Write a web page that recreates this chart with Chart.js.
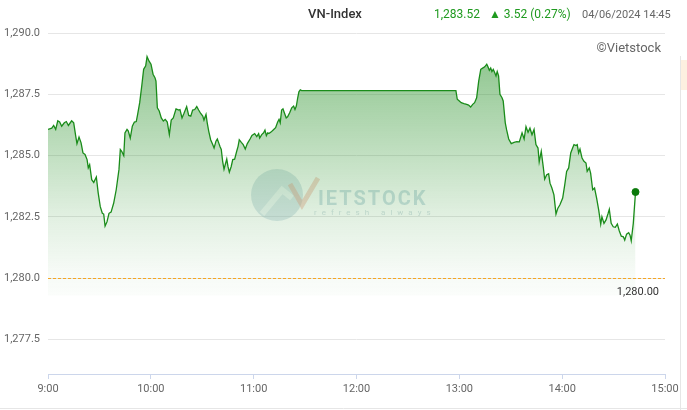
<!DOCTYPE html>
<html>
<head>
<meta charset="utf-8">
<script src="https://cdn.jsdelivr.net/npm/chart.js@4.4.1/dist/chart.umd.min.js"></script>
<style>
  html, body { margin:0; padding:0; background:#fff; }
  #wrap { position:relative; width:687px; height:410px; }
</style>
</head>
<body>
<div id="wrap"><canvas id="vnChart" width="687" height="410"></canvas></div>
<script>
// ===== Data =====
// minutes after 9:00
const minutes = [
  0, 2.2, 3.3, 4.5, 5.7, 6.8, 8.0, 9.5, 10.7, 11.9, 13.8, 15.0, 16.2, 16.9, 18.1, 19.3, 20.4, 21.6, 22.8, 23.5,
  24.3, 25.5, 26.7, 28.2, 29.3, 30.5, 31.7, 32.5, 33.3, 34.4, 35.6, 36.8, 38.3, 39.8, 41.4, 42.2, 43.0, 44.2, 44.9, 46.1,
  46.8, 48.0, 49.2, 50.4, 51.5, 52.3, 53.5, 54.7, 55.8, 57.0, 57.8, 58.9, 60.1, 61.3, 62.4, 63.0, 63.8, 64.9, 66.1, 67.3,
  68.4, 69.6, 70.8, 71.9, 73.1, 74.7, 76.3, 77.0, 78.2, 79.3, 80.9, 82.1, 83.3, 84.4, 85.6, 86.8, 87.9, 89.1, 90.3, 91.0,
  92.2, 92.9, 93.8, 94.9, 96.1, 96.9, 98.0, 98.8, 99.6, 100.4, 101.1, 101.9, 102.7, 103.4, 104.3, 105.0, 105.8, 106.9, 107.8, 108.9,
  110.1, 110.9, 111.6, 112.8, 113.9, 115.1, 116.3, 117.9, 119.0, 120.6, 121.8, 122.9, 123.5, 124.7, 125.8, 126.6, 127.4, 128.2, 128.9, 130.1,
  131.7, 132.8, 134.0, 134.8, 135.5, 136.3, 137.1, 137.9, 139.0, 139.8, 141.0, 142.2, 143.3, 144.1, 144.9, 145.7, 146.4, 147.2, 148.0, 238.0,
  238.8, 240.0, 241.1, 242.7, 244.3, 245.4, 246.6, 247.8, 248.9, 250.1, 251.3, 252.5, 253.6, 254.8, 256.0, 256.7, 257.5, 258.3, 259.0, 259.8,
  260.6, 261.4, 262.1, 262.9, 263.7, 264.9, 265.6, 266.8, 267.6, 268.8, 270.3, 271.9, 273.5, 275.0, 276.6, 277.8, 278.9, 280.1, 281.2, 282.4,
  283.6, 284.7, 285.9, 286.6, 287.8, 289.0, 289.8, 291.0, 292.1, 292.9, 294.0, 295.2, 296.4, 297.5, 298.7, 300.3, 301.5, 302.6, 303.8, 305.0,
  306.1, 306.9, 308.1, 308.8, 309.6, 310.4, 311.6, 312.7, 313.9, 314.6, 315.8, 316.6, 317.8, 318.9, 320.1, 321.3, 322.5, 323.2, 324.4, 325.6,
  326.7, 327.5, 328.6, 329.8, 331.0, 332.2, 333.3, 334.5, 335.7, 336.5, 337.6, 338.8, 339.6, 340.3, 341.5, 342.8
];
const values = [
  1286.07, 1286.12, 1286.23, 1286.07, 1286.42, 1286.37, 1286.20, 1286.34, 1286.39, 1286.23, 1286.42, 1286.34, 1285.79, 1285.49, 1285.76, 1285.52, 1285.11, 1285.05, 1284.84, 1284.50,
  1284.63, 1284.02, 1283.91, 1284.13, 1283.47, 1282.92, 1282.65, 1282.62, 1282.13, 1282.30, 1282.65, 1282.70, 1283.06, 1283.61, 1284.43, 1285.25, 1285.18, 1285.00, 1285.93, 1286.07,
  1286.01, 1285.72, 1286.20, 1286.37, 1286.39, 1286.68, 1287.16, 1287.84, 1288.52, 1288.66, 1289.04, 1288.86, 1288.73, 1288.32, 1288.18, 1288.04, 1286.95, 1286.82, 1286.54, 1286.41,
  1286.48, 1286.37, 1285.86, 1286.45, 1286.54, 1286.91, 1286.86, 1286.88, 1286.54, 1286.72, 1287.00, 1286.64, 1286.61, 1286.86, 1286.88, 1287.00, 1286.86, 1286.72, 1286.61, 1286.45,
  1286.68, 1286.34, 1285.99, 1285.65, 1285.45, 1285.31, 1285.59, 1285.68, 1285.52, 1285.36, 1285.25, 1284.77, 1284.45, 1284.63, 1284.86, 1284.56, 1284.33, 1284.56, 1284.84, 1284.86,
  1285.18, 1285.38, 1285.65, 1285.54, 1285.45, 1285.27, 1285.49, 1285.68, 1285.82, 1285.90, 1285.78, 1285.90, 1285.72, 1285.86, 1285.93, 1286.04, 1285.82, 1285.93, 1285.90, 1285.96,
  1286.07, 1286.14, 1286.37, 1286.48, 1286.34, 1286.86, 1286.91, 1286.75, 1286.54, 1286.58, 1286.75, 1286.95, 1287.02, 1286.88, 1287.02, 1287.36, 1287.60, 1287.68, 1287.65, 1287.65,
  1287.30, 1287.23, 1287.16, 1287.12, 1287.09, 1287.06, 1286.98, 1287.09, 1287.16, 1287.36, 1288.04, 1288.52, 1288.57, 1288.62, 1288.73, 1288.62, 1288.48, 1288.57, 1288.43, 1288.52,
  1288.39, 1288.25, 1288.43, 1288.25, 1287.50, 1287.36, 1287.23, 1286.34, 1286.05, 1285.68, 1285.49, 1285.54, 1285.57, 1285.56, 1285.93, 1285.68, 1286.18, 1285.95, 1286.12, 1285.85,
  1286.07, 1285.45, 1285.31, 1284.75, 1285.18, 1284.52, 1284.04, 1284.22, 1284.26, 1283.88, 1283.68, 1283.40, 1282.62, 1282.86, 1283.00, 1283.27, 1283.81, 1284.36, 1284.50, 1285.11,
  1285.31, 1285.45, 1285.41, 1285.45, 1285.11, 1285.27, 1284.90, 1284.77, 1284.70, 1284.36, 1284.50, 1284.29, 1283.61, 1283.68, 1283.27, 1282.79, 1282.21, 1282.51, 1282.24, 1282.38,
  1282.62, 1282.81, 1282.24, 1282.10, 1282.08, 1282.21, 1281.94, 1281.72, 1281.69, 1281.56, 1281.80, 1281.86, 1281.76, 1281.53, 1282.24, 1283.52
];
const yTicks = [1277.5, 1280.0, 1282.5, 1285.0, 1287.5, 1290.0];
const xTicks = [0, 60, 120, 180, 240, 300, 360];
const xTickLabels = ['9:00', '10:00', '11:00', '12:00', '13:00', '14:00', '15:00'];
const prevClose = 1280.00;
const indexName = 'VN-Index';
const lastText = '1,283.52';
const changeText = '\u25B2 3.52 (0.27%)';
const stampText = '04/06/2024 14:45';

// ===== Helpers =====
const fmt1 = v => v.toLocaleString('en-US', { minimumFractionDigits: 1, maximumFractionDigits: 1 });
const fmt2 = v => v.toLocaleString('en-US', { minimumFractionDigits: 2, maximumFractionDigits: 2 });
const points = minutes.map((m, i) => ({ x: m, y: values[i] }));
const FONT = 'Roboto, "Liberation Sans", sans-serif';

// ===== Plugins =====
const watermark = {
  id: 'watermark',
  beforeDatasetsDraw(chart){
    const c = chart.ctx;
    c.save();
    // logo circle
    c.fillStyle = 'rgba(160,192,204,0.36)';
    c.beginPath(); c.arc(277, 195, 26, 0, Math.PI * 2); c.fill();
    c.strokeStyle = 'rgba(255,255,255,0.55)';
    c.lineWidth = 6;
    c.beginPath(); c.moveTo(262, 214); c.lineTo(282, 190); c.lineTo(292, 198); c.stroke();
    // orange V
    c.strokeStyle = 'rgba(238,160,140,0.4)';
    c.lineWidth = 5;
    c.beginPath(); c.moveTo(290, 184); c.lineTo(302, 205); c.lineTo(318, 178); c.stroke();
    // text
    c.fillStyle = 'rgba(170,200,212,0.55)';
    c.font = 'bold 20px ' + FONT;
    c.textBaseline = 'alphabetic';
    c.textAlign = 'left';
    c.letterSpacing = '2px';
    c.fillText('IETSTOCK', 318, 205);
    c.font = '8px ' + FONT;
    c.letterSpacing = '5px';
    c.fillStyle = 'rgba(185,205,212,0.6)';
    c.fillText('refresh always', 314, 215);
    c.restore();
  }
};

const extras = {
  id: 'extras',
  afterDatasetsDraw(chart){
    const c = chart.ctx;
    const { left, right } = chart.chartArea;
    const y = Math.round(chart.scales.y.getPixelForValue(prevClose)) + 0.5;
    c.save();
    c.strokeStyle = '#f5a623';
    c.lineWidth = 1;
    c.setLineDash([3, 2]);
    c.beginPath(); c.moveTo(left, y); c.lineTo(right, y); c.stroke();
    c.setLineDash([]);
    c.fillStyle = '#333';
    c.font = '11px ' + FONT;
    c.textAlign = 'right';
    c.textBaseline = 'middle';
    c.fillText(fmt2(prevClose), 659, y + 14);
    c.restore();
  },
  afterDraw(chart){
    const c = chart.ctx;
    c.save();
    c.textBaseline = 'middle';
    c.textAlign = 'center';
    c.fillStyle = '#333';
    c.font = '500 13px ' + FONT;
    c.fillText(indexName, 335, 15);
    c.textAlign = 'left';
    c.fillStyle = '#1f9a1f';
    c.font = '12px ' + FONT;
    c.fillText(lastText, 434, 15);
    c.fillText(changeText, 489, 15);
    c.fillStyle = '#666';
    c.font = '11px ' + FONT;
    c.fillText(stampText, 582, 15);
    c.textAlign = 'right';
    c.font = '13px ' + FONT;
    c.fillText('\u00A9Vietstock', 661, 49);
    // bottom border and side panel edge
    c.strokeStyle = '#e6e6e6';
    c.lineWidth = 1;
    c.beginPath(); c.moveTo(0, 408.5); c.lineTo(687, 408.5); c.stroke();
    c.beginPath(); c.moveTo(680.5, 56); c.lineTo(680.5, 410); c.stroke();
    c.fillStyle = '#fdf0e0';
    c.fillRect(681, 60, 6, 30);
    c.restore();
  }
};

// ===== Chart =====
const ctx = document.getElementById('vnChart').getContext('2d');
new Chart(ctx, {
  type: 'line',
  data: {
    datasets: [{
      data: points,
      borderColor: '#1a8c1a',
      borderWidth: 1.3,
      tension: 0,
      fill: { value: 1279.3 },
      backgroundColor: (context) => {
        const { ctx, chartArea } = context.chart;
        if (!chartArea) return 'rgba(30,140,30,0.2)';
        const g = ctx.createLinearGradient(0, chartArea.top, 0, chartArea.bottom);
        g.addColorStop(0, 'rgba(30,140,30,0.55)');
        g.addColorStop(0.36, 'rgba(30,140,30,0.27)');
        g.addColorStop(0.54, 'rgba(30,140,30,0.13)');
        g.addColorStop(0.7, 'rgba(30,140,30,0.04)');
        g.addColorStop(0.78, 'rgba(30,140,30,0.015)');
        g.addColorStop(1, 'rgba(30,140,30,0)');
        return g;
      },
      pointRadius: (c) => c.dataIndex === values.length - 1 ? 3.5 : 0,
      pointBackgroundColor: '#0b7a0b',
      pointBorderColor: '#0b7a0b',
      pointBorderWidth: 1
    }]
  },
  options: {
    responsive: false,
    devicePixelRatio: 1,
    animation: false,
    layout: { padding: { top: 33, right: 22, left: 4, bottom: 0 } },
    plugins: { legend: { display: false }, tooltip: { enabled: false } },
    scales: {
      x: {
        type: 'linear',
        min: 0,
        max: 360,
        afterBuildTicks: (s) => { s.ticks = xTicks.map(v => ({ value: v })); },
        afterFit: (s) => { s.height = 36; },
        ticks: {
          autoSkip: false,
          maxRotation: 0,
          padding: 4,
          color: '#666',
          font: { family: FONT, size: 11 },
          callback: (v) => xTickLabels[xTicks.indexOf(v)]
        },
        grid: { drawOnChartArea: false, drawTicks: true, tickLength: 5, color: '#ccd6eb' },
        border: { display: true, color: '#ccd6eb' }
      },
      y: {
        min: 1276.1,
        max: 1290,
        afterBuildTicks: (s) => { s.ticks = yTicks.map(v => ({ value: v })); },
        afterFit: (s) => { s.width = 44; },
        ticks: {
          crossAlign: 'far',
          color: '#666',
          font: { family: FONT, size: 11 },
          callback: (v) => fmt1(v)
        },
        grid: { color: '#e6e6e6', drawTicks: false },
        border: { display: false }
      }
    }
  },
  plugins: [watermark, extras]
});
</script>
</body>
</html>
